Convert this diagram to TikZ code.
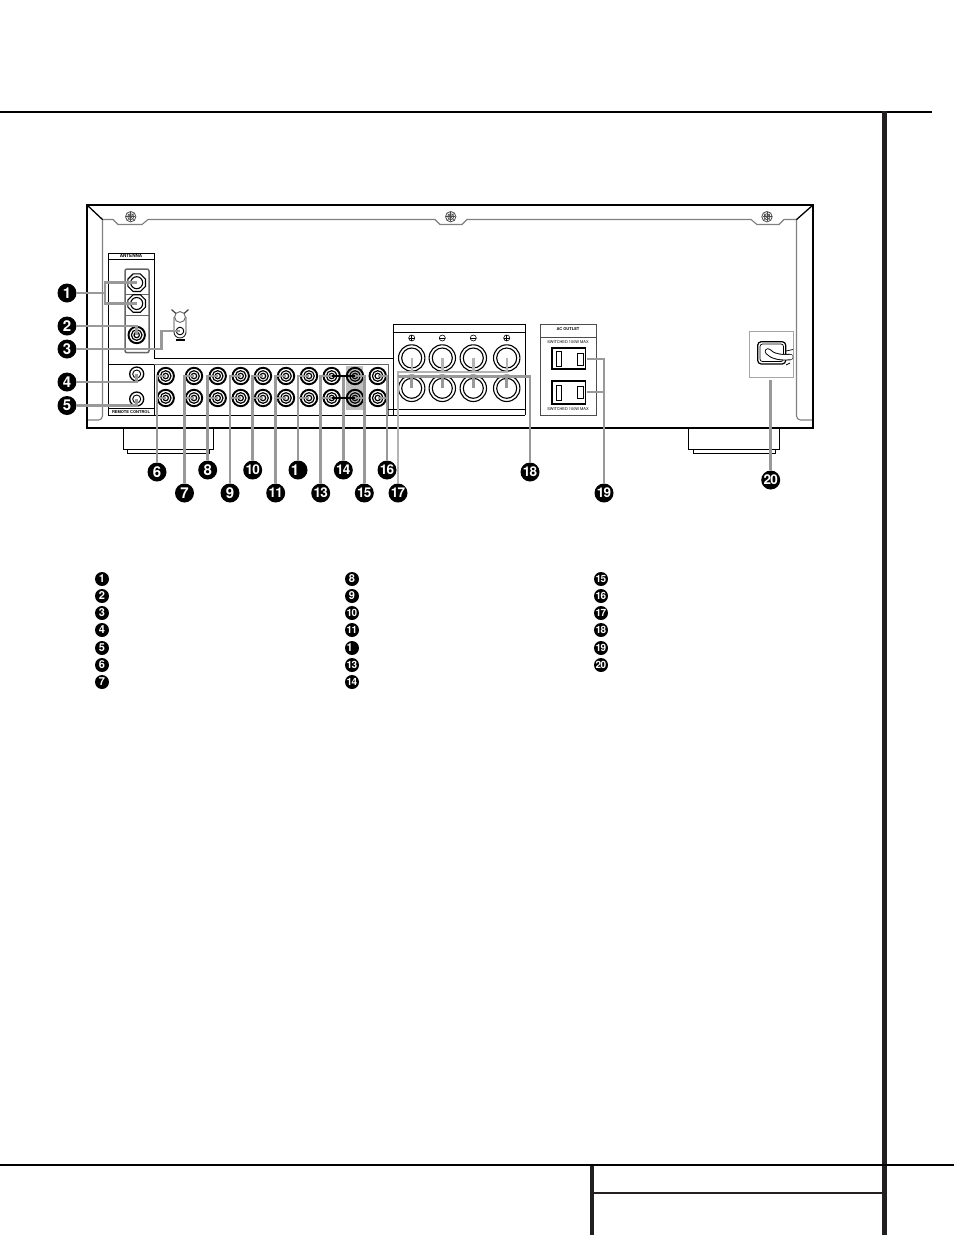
\documentclass[tikz,border=0pt]{standalone}
\usepackage{fontspec}
\setmainfont{TeX Gyre Heros}
\usetikzlibrary{shapes.geometric}
\definecolor{ink}{HTML}{231F20}
\definecolor{leadgray}{HTML}{999999}
\definecolor{lightlead}{HTML}{B4B4B4}
\tikzset{
  badge/.style={circle,fill=black,text=white,inner sep=0pt,minimum size=19pt,font=\fontsize{15}{15}\selectfont\bfseries},
  badgett/.style={badge,font=\fontsize{13.5}{14}\selectfont\bfseries\addfontfeature{LetterSpace=-6}},
  sbadge/.style={badge,minimum size=14pt,font=\fontsize{11}{11}\selectfont\bfseries},
  sbadgett/.style={badge,minimum size=14pt,font=\fontsize{10}{10}\selectfont\bfseries\addfontfeature{LetterSpace=-6}},
  lead/.style={draw=leadgray,line width=2.8pt,line join=miter},
  lightline/.style={draw=lightlead,line width=2.4pt},
  chassis/.style={draw=black,line width=1.6pt},
  panel/.style={draw=black,line width=0.9pt},
  rail/.style={draw=black!50,line width=1.1pt},
  pagerule/.style={draw=black,line width=2pt},
  pagebar/.style={draw=ink,line width=4.4pt},
  tiny/.style={inner sep=0pt,text=black}
}
\newcommand{\rcajack}[2]{%
  \draw[line width=1.9pt] (#1) circle[radius=8.2pt];
  \draw[line width=1.2pt] (#1) circle[radius=5.3pt];
  \draw[line width=1.2pt] (#1) circle[radius=2.7pt];
}
\newcommand{\spkjack}[1]{%
  \draw[line width=1.1pt,fill=white] (#1) circle[radius=13.2pt];
  \draw[line width=1.1pt] (#1) circle[radius=10pt];
}
\begin{document}
\begin{tikzpicture}[x=1pt,y=-1pt]
\useasboundingbox (0,0) rectangle (954,1235);
\fill[white] (0,0) rectangle (954,1235);
% page rules
\draw[pagerule] (0,111.5) -- (932,111.5);
\draw[pagebar] (884.5,111) -- (884.5,1235);
\draw[pagerule] (0,1165) -- (954,1165);
\draw[pagebar] (591.7,1166) -- (591.7,1235);
\draw[draw=ink,line width=2pt] (592,1193) -- (884,1193);
% feet
\draw[panel,line width=1pt] (123.3,428) -- (123.3,449) -- (213,449) -- (213,428);
\draw[panel,line width=1pt] (127,449) -- (127,453) -- (209,453) -- (209,449);
\draw[panel,line width=1pt] (688,428) -- (688,449) -- (779,449) -- (779,428);
\draw[panel,line width=1pt] (693,449) -- (693,453) -- (775,453) -- (775,449);
% chassis
\draw[chassis] (87,205) rectangle (813,428);
\draw[black,line width=1.3pt] (87,205) -- (103,220);
\draw[black,line width=1.3pt] (813,205) -- (796,220);
\draw[rail] (103,219.5) -- (113,219.5) -- (118,224.5) -- (142,224.5) -- (148,219.5)
  -- (435,219.5) -- (440,224.5) -- (462,224.5) -- (467,219.5)
  -- (751,219.5) -- (757,224.5) -- (779,224.5) -- (784,219.5) -- (796,219.5);
\draw[rail] (102.5,220) -- (102.5,416) arc[start angle=0,end angle=-90,radius=4pt] -- (88,420);
\draw[rail] (796.5,220) -- (796.5,416) arc[start angle=180,end angle=270,radius=4pt] -- (812,420);
% screws
\foreach \n/\x in {a/130.7,b/450.7,c/767}{
  \coordinate (screw\n) at (\x,216.7);
  \draw[black!70,line width=0.8pt] (screw\n) circle[radius=5.2pt];
  \draw[black!70,line width=0.7pt] (screw\n) circle[radius=3pt];
  \draw[black!70,line width=0.5pt] ([xshift=-4.5pt]screw\n) -- ([xshift=4.5pt]screw\n);
  \draw[black!70,line width=0.5pt] ([yshift=-4.5pt]screw\n) -- ([yshift=4.5pt]screw\n);
  \draw[black!70,line width=0.5pt] ([shift={(-3.2pt,-3.2pt)}]screw\n) -- ([shift={(3.2pt,3.2pt)}]screw\n);
  \draw[black!70,line width=0.5pt] ([shift={(-3.2pt,3.2pt)}]screw\n) -- ([shift={(3.2pt,-3.2pt)}]screw\n);
}
% antenna + remote panel
\draw[panel] (108,415) -- (108,253) -- (154,253) -- (154,358);
\draw[panel] (108,259) -- (154,259);
\draw[panel] (108,364) -- (154,364);
\draw[panel] (108,408) -- (154,408);
\draw[panel] (108,415) -- (525,415);
\draw[panel] (154,358) -- (393,358);
\draw[panel] (154,364) -- (154,415);
\draw[draw=black!60,line width=0.8pt] (154,364) -- (388,364) -- (388,415);
\draw[panel] (388,409) -- (393,409);
\node[tiny,font=\fontsize{4.6}{5}\selectfont\bfseries] (antlabel) at (131,256) {ANTENNA};
\node[tiny,font=\fontsize{4}{5}\selectfont\bfseries] (remlabel) at (131,412) {REMOTE CONTROL};
% antenna block
\draw[draw=black!60,line width=1.5pt,rounded corners=2pt] (125,269) rectangle (149,352.7);
\draw[draw=black!60,line width=1pt] (125,294) -- (149,294);
\draw[draw=black!60,line width=1pt] (125,315) -- (149,315);
\coordinate (fm1) at (136.7,282.7);
\coordinate (fm2) at (136.7,303.5);
\coordinate (am) at (136.7,335);
\foreach \c in {fm1,fm2}{
  \node[regular polygon,regular polygon sides=8,draw=black,line width=1.1pt,minimum size=19pt,inner sep=0pt,fill=white] at (\c) {};
  \draw[line width=1.1pt] (\c) circle[radius=6pt];
}
\rcajack{am}{}
% ground post
\coordinate (gnd) at (180,331);
\draw[black!70,line width=1.3pt] (171.5,309.5) -- (176.5,314) (188.5,309.5) -- (183.5,314);
\draw[black!85,line width=0.9pt] (174,317) -- (174,332) arc[start angle=180,end angle=360,radius=6pt] -- (186,317);
\draw[black!60,line width=0.9pt,fill=white] (180,317) circle[radius=5.4pt];
\draw[line width=0.9pt] (gnd) circle[radius=3.8pt];
\fill[black] (175.5,338.8) rectangle (184.5,341);
% remote jacks
\coordinate (rem1) at (136.7,374);
\coordinate (rem2) at (136.7,399);
\foreach \c in {rem1,rem2}{
  \draw[line width=1.3pt] (\c) circle[radius=7pt];
  \draw[line width=0.9pt] (\c) circle[radius=4pt];
}
% highlighted jack column
\fill[black!25] (346,366) rectangle (363.3,410);
% rca jacks
\foreach \n/\x in {6/165.7,7/194,8/217.7,9/240.7,10/263,11/286,12/309,13/331.7,15/355,16/377.7}{
  \coordinate (j\n t) at (\x,376);
  \coordinate (j\n b) at (\x,398);
  \foreach \c in {j\n t,j\n b}{\rcajack{\c}{}}
}
% speaker terminals
\draw[panel,line width=1pt] (393,415) -- (393,324) -- (525,324) -- (525,415);
\draw[panel,line width=1pt] (393,332) -- (525,332);
\draw[panel,line width=1pt] (393,409) -- (525,409);
\foreach \n/\x in {a/411.7,b/442.3,c/473.3,d/506.7}{
  \coordinate (s\n t) at (\x,358);
  \coordinate (s\n b) at (\x,388.3);
  \coordinate (s\n m) at (\x,338);
  \spkjack{s\n t}
  \spkjack{s\n b}
  \draw[line width=0.6pt] (s\n m) circle[radius=3pt];
  \draw[line width=0.6pt] ([xshift=-3pt]s\n m) -- ([xshift=3pt]s\n m);
}
\foreach \c in {a,d}{\draw[line width=0.6pt] ([yshift=-3pt]s\c m) -- ([yshift=3pt]s\c m);}
% ac outlets
\draw[draw=black!70,line width=0.9pt] (540,324) rectangle (596.5,415);
\draw[draw=black!70,line width=0.9pt] (540,337) -- (596.5,337);
\node[tiny,font=\fontsize{4}{5}\selectfont\bfseries] (aclabel) at (568,329.5) {AC OUTLET};
\node[tiny,font=\fontsize{3.9}{5}\selectfont] (sw1) at (568,342) {SWITCHED 100W MAX};
\node[tiny,font=\fontsize{3.9}{5}\selectfont] (sw2) at (568,409.5) {SWITCHED 100W MAX};
\draw[line width=1.1pt] (552,348) rectangle (585.7,369);
\draw[line width=1pt] (556.7,351.7) rectangle (561.7,366);
\draw[line width=1pt] (577.7,353) rectangle (583.3,365);
\draw[line width=1.1pt] (552,381) rectangle (585.7,404);
\draw[line width=1pt] (556.7,385) rectangle (561.7,400);
\draw[line width=1pt] (577.7,386.7) rectangle (583.3,398);
% power cord
\draw[draw=black!35,line width=0.8pt] (749,331) rectangle (793,377);
\draw[line width=1.2pt,rounded corners=3.5pt] (757.7,341.7) rectangle (785.7,364);
\draw[line width=0.7pt,rounded corners=2.5pt] (760,344) rectangle (783.5,361.5);
\draw[black,line width=6.5pt,line cap=round] (768,351.5) .. controls (772,356) and (780,358) .. (790,357);
\draw[white,line width=4.6pt,line cap=round] (768,351.5) .. controls (772,356) and (780,358) .. (790.5,357);
\draw[line width=0.7pt] (786,351) -- (793,349.5);
\draw[line width=0.7pt] (786,365) -- (790,363);
% callout badges
\foreach \n/\x/\y in {1/67/293,2/67/326,3/67/349,4/67/382,5/67/405.5,6/157/472,7/184.5/493,8/207.7/470,9/230/493}{
  \node[badge] (b\n) at (\x,\y) {\n};
}
\foreach \n/\x/\y in {10/252.7/470,11/275.7/493,13/320.7/493,14/343.3/470,15/364.3/493,16/387/470,17/398/493,18/530/472,19/604/493,20/770.7/480}{
  \node[badgett] (b\n) at (\x,\y) {\n};
}
\node[badge] (b12) at (298,470) {\hspace{-6pt}1};
% connectors
\coordinate (ant1) at (105,293);
\draw[lead] (b1) -- (ant1);
\draw[lead] (fm1) -| (ant1) |- (fm2);
\draw[lead] (b2) -| (am);
\coordinate (gndturn) at (161.7,349);
\draw[lead] (b3) -- (gndturn) |- (gnd);
\draw[lead] (b4) -| (rem1);
\draw[lead] (b5) -| (rem2);
\foreach \n in {6,7,8,9,10,11,13,16,15}{
  \draw[lead] (b\n) |- (j\n t);
  \draw[lead] (j\n b) -| (b\n);
}
\draw[lead] (b12) |- (j12t);
\draw[lead] (j12b) -| (b12);
\draw[lead] (b14) |- (j13t);
% speaker leaders
\coordinate (spkcornerA) at (398,371.7);
\coordinate (spkcornerB) at (398,376.5);
\draw[lightline] (b17) -- (spkcornerA) -- (spkcornerA -| sdt) -- (sdt);
\foreach \c in {a,b,c}{\draw[lightline] (s\c t) -- (spkcornerA -| s\c t);}
\draw[lead] (spkcornerB) -| (b18);
\foreach \c in {a,b,c,d}{\draw[lead] (s\c b) -- (spkcornerB -| s\c b);}
% outlet leaders
\coordinate (out1) at (587,359);
\coordinate (out2) at (587,392);
\draw[lead] (out1) -| (b19);
\draw[lead] (out2) -| (b19);
% cord leader
\coordinate (cord) at (770.7,380);
\draw[lead] (b20) -- (cord);
% jumpers
\draw[black,line width=1.7pt] (j13t) -- (j15t);
\draw[black,line width=1.7pt] (j13b) -- (j15b);
% list
\foreach \n/\y in {1/579,2/596,3/613,4/630,5/648,6/665,7/682}{
  \node[sbadge] (l\n) at (102,\y) {\n};
}
\foreach \n/\y in {8/579,9/596}{
  \node[sbadge] (l\n) at (352,\y) {\n};
}
\foreach \n/\y in {10/613,11/630,13/665,14/682}{
  \node[sbadgett] (l\n) at (352,\y) {\n};
}
\node[sbadge] (l12) at (352,648) {\hspace{-4.5pt}1};
\foreach \n/\y in {15/579,16/596,17/613,18/630,19/648,20/665}{
  \node[sbadgett] (l\n) at (601,\y) {\n};
}
\end{tikzpicture}
\end{document}
